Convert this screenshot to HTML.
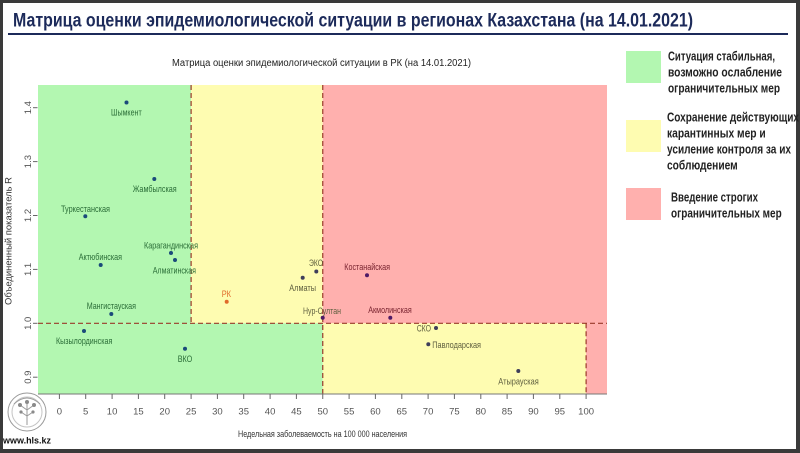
<!DOCTYPE html>
<html><head><meta charset="utf-8"><style>
html,body{margin:0;padding:0;background:#3a3a3a;}
svg{display:block;}
text{font-family:"Liberation Sans","DejaVu Sans",sans-serif;}
</style></head><body>
<svg width="800" height="453" viewBox="0 0 800 453" xmlns="http://www.w3.org/2000/svg">
<rect x="0" y="0" width="800" height="453" fill="#3a3a3a"/>
<rect x="3" y="3" width="793" height="446" fill="#ffffff"/>

<!-- Header -->
<text x="13" y="26.5" font-size="19.5" font-weight="bold" fill="#1c2a5a" textLength="680" lengthAdjust="spacingAndGlyphs">Матрица оценки эпидемиологической ситуации в регионах Казахстана (на 14.01.2021)</text>
<rect x="8" y="33" width="780" height="2" fill="#1c2a5a"/>

<!-- Chart subtitle -->
<text x="172" y="66" font-size="10" fill="#222" textLength="299" lengthAdjust="spacingAndGlyphs">Матрица оценки эпидемиологической ситуации в РК (на 14.01.2021)</text>

<!-- Regions -->
<rect x="38" y="85" width="153.1" height="238.3" fill="#b3f7b1"/>
<rect x="191.1" y="85" width="131.65" height="238.3" fill="#fefcb1"/>
<rect x="322.75" y="85" width="284.25" height="238.3" fill="#ffb0ae"/>
<rect x="38" y="323.3" width="284.75" height="70.5" fill="#b3f7b1"/>
<rect x="322.75" y="323.3" width="263.35" height="70.5" fill="#fefcb1"/>
<rect x="586.1" y="323.3" width="20.9" height="70.5" fill="#ffb0ae"/>

<!-- Dashed lines -->
<g stroke="#9a3a2a" stroke-width="1.2" stroke-dasharray="5,3" fill="none">
<line x1="191.1" y1="85" x2="191.1" y2="323.3"/>
<line x1="322.75" y1="85" x2="322.75" y2="393.8"/>
<line x1="586.1" y1="323.3" x2="586.1" y2="393.8"/>
<line x1="38" y1="323.3" x2="607" y2="323.3"/>
</g>

<!-- Axes -->
<line x1="38" y1="394" x2="607" y2="394" stroke="#777" stroke-width="1"/>
<g stroke="#666" stroke-width="1">
<line x1="59.4" y1="394" x2="59.4" y2="399"/><line x1="85.7" y1="394" x2="85.7" y2="399"/>
<line x1="112.1" y1="394" x2="112.1" y2="399"/><line x1="138.4" y1="394" x2="138.4" y2="399"/>
<line x1="164.7" y1="394" x2="164.7" y2="399"/><line x1="191.1" y1="394" x2="191.1" y2="399"/>
<line x1="217.4" y1="394" x2="217.4" y2="399"/><line x1="243.7" y1="394" x2="243.7" y2="399"/>
<line x1="270.1" y1="394" x2="270.1" y2="399"/><line x1="296.4" y1="394" x2="296.4" y2="399"/>
<line x1="322.75" y1="394" x2="322.75" y2="399"/><line x1="349.1" y1="394" x2="349.1" y2="399"/>
<line x1="375.4" y1="394" x2="375.4" y2="399"/><line x1="401.8" y1="394" x2="401.8" y2="399"/>
<line x1="428.1" y1="394" x2="428.1" y2="399"/><line x1="454.4" y1="394" x2="454.4" y2="399"/>
<line x1="480.8" y1="394" x2="480.8" y2="399"/><line x1="507.1" y1="394" x2="507.1" y2="399"/>
<line x1="533.4" y1="394" x2="533.4" y2="399"/><line x1="559.8" y1="394" x2="559.8" y2="399"/>
<line x1="586.1" y1="394" x2="586.1" y2="399"/>
<line x1="33" y1="107.7" x2="37.5" y2="107.7"/><line x1="33" y1="161.6" x2="37.5" y2="161.6"/>
<line x1="33" y1="215.5" x2="37.5" y2="215.5"/><line x1="33" y1="269.4" x2="37.5" y2="269.4"/>
<line x1="33" y1="323.3" x2="37.5" y2="323.3"/><line x1="33" y1="377.2" x2="37.5" y2="377.2"/>
</g>
<g font-size="9.5" fill="#555" text-anchor="middle">
<text x="59.4" y="414.5">0</text><text x="85.7" y="414.5">5</text><text x="112.1" y="414.5">10</text>
<text x="138.4" y="414.5">15</text><text x="164.7" y="414.5">20</text><text x="191.1" y="414.5">25</text>
<text x="217.4" y="414.5">30</text><text x="243.7" y="414.5">35</text><text x="270.1" y="414.5">40</text>
<text x="296.4" y="414.5">45</text><text x="322.75" y="414.5">50</text><text x="349.1" y="414.5">55</text>
<text x="375.4" y="414.5">60</text><text x="401.8" y="414.5">65</text><text x="428.1" y="414.5">70</text>
<text x="454.4" y="414.5">75</text><text x="480.8" y="414.5">80</text><text x="507.1" y="414.5">85</text>
<text x="533.4" y="414.5">90</text><text x="559.8" y="414.5">95</text><text x="586.1" y="414.5">100</text>
<text transform="translate(31,107.7) rotate(-90)">1.4</text>
<text transform="translate(31,161.6) rotate(-90)">1.3</text>
<text transform="translate(31,215.5) rotate(-90)">1.2</text>
<text transform="translate(31,269.4) rotate(-90)">1.1</text>
<text transform="translate(31,323.3) rotate(-90)">1.0</text>
<text transform="translate(31,377.2) rotate(-90)">0.9</text>
</g>

<!-- Axis titles -->
<text x="238" y="437" font-size="9.5" fill="#333" textLength="169" lengthAdjust="spacingAndGlyphs">Недельная заболеваемость на 100 000 населения</text>
<text transform="translate(11.5,305) rotate(-90)" font-size="9.5" fill="#333" textLength="128" lengthAdjust="spacingAndGlyphs">Объединенный показатель R</text>

<!-- Points -->
<g fill="#1a4a7a">
<circle cx="126.5" cy="102.5" r="2"/>
<circle cx="154.3" cy="179" r="2"/>
<circle cx="85.3" cy="216.3" r="2"/>
<circle cx="171" cy="253" r="2"/>
<circle cx="175" cy="260" r="2"/>
<circle cx="100.7" cy="265" r="2"/>
<circle cx="111.3" cy="314" r="2"/>
<circle cx="84" cy="331" r="2"/>
<circle cx="185" cy="348.7" r="2"/>
</g>
<g fill="#3e3e5a">
<circle cx="302.7" cy="277.7" r="2"/>
<circle cx="316.3" cy="271.5" r="2"/>
<circle cx="436" cy="328" r="2"/>
<circle cx="428.3" cy="344.3" r="2"/>
<circle cx="518.3" cy="371" r="2"/>
</g>
<g fill="#4e1a66">
<circle cx="322.7" cy="317.7" r="2"/>
<circle cx="367" cy="275.3" r="2"/>
<circle cx="390.3" cy="317.7" r="2"/>
</g>
<circle cx="226.7" cy="301.7" r="2" fill="#e06a2a"/>

<!-- Labels -->
<g font-size="9.5" fill="#2b6e38">
<text x="111" y="115.5" textLength="30.7" lengthAdjust="spacingAndGlyphs">Шымкент</text>
<text x="132.7" y="192.2" textLength="44" lengthAdjust="spacingAndGlyphs">Жамбылская</text>
<text x="61" y="211.8" textLength="49" lengthAdjust="spacingAndGlyphs">Туркестанская</text>
<text x="144" y="248.5" textLength="54" lengthAdjust="spacingAndGlyphs">Карагандинская</text>
<text x="78.7" y="260.2" textLength="43.3" lengthAdjust="spacingAndGlyphs">Актюбинская</text>
<text x="152.7" y="273.5" textLength="43.3" lengthAdjust="spacingAndGlyphs">Алматинская</text>
<text x="86.7" y="308.8" textLength="49.3" lengthAdjust="spacingAndGlyphs">Мангистауская</text>
<text x="56" y="344.2" textLength="56.3" lengthAdjust="spacingAndGlyphs">Кызылординская</text>
<text x="177.7" y="362.2" textLength="14.6" lengthAdjust="spacingAndGlyphs">ВКО</text>
</g>
<text x="221.7" y="296.8" font-size="9.5" fill="#e06a2a" textLength="9.3" lengthAdjust="spacingAndGlyphs">РК</text>
<g font-size="9.5" fill="#5e5e3e">
<text x="289.3" y="290.8" textLength="26.7" lengthAdjust="spacingAndGlyphs">Алматы</text>
<text x="309" y="266" textLength="14" lengthAdjust="spacingAndGlyphs">ЭКО</text>
<text x="303" y="314.2" textLength="38" lengthAdjust="spacingAndGlyphs">Нур-Султан</text>
<text x="416.7" y="331.5" textLength="14.3" lengthAdjust="spacingAndGlyphs">СКО</text>
<text x="432.3" y="347.8" textLength="48.7" lengthAdjust="spacingAndGlyphs">Павлодарская</text>
<text x="498.3" y="384.5" textLength="40.4" lengthAdjust="spacingAndGlyphs">Атырауская</text>
</g>
<g font-size="9.5" fill="#7a2430">
<text x="344.3" y="270.2" textLength="45.7" lengthAdjust="spacingAndGlyphs">Костанайская</text>
<text x="368.3" y="312.8" textLength="43.4" lengthAdjust="spacingAndGlyphs">Акмолинская</text>
</g>

<!-- Legend -->
<rect x="626" y="51" width="35" height="32" fill="#b3f7b1"/>
<rect x="626" y="120" width="35" height="32" fill="#fefcb1"/>
<rect x="626" y="188" width="35" height="32" fill="#ffb0ae"/>
<g font-size="12.5" font-weight="bold" fill="#222">
<text x="668" y="60.5" textLength="107" lengthAdjust="spacingAndGlyphs">Ситуация стабильная,</text>
<text x="668" y="76.5" textLength="114" lengthAdjust="spacingAndGlyphs">возможно ослабление</text>
<text x="668" y="92.5" textLength="112" lengthAdjust="spacingAndGlyphs">ограничительных мер</text>
<text x="667" y="121.5" textLength="132" lengthAdjust="spacingAndGlyphs">Сохранение действующих</text>
<text x="667" y="137.5" textLength="98.7" lengthAdjust="spacingAndGlyphs">карантинных мер и</text>
<text x="667" y="153.5" textLength="124" lengthAdjust="spacingAndGlyphs">усиление контроля за их</text>
<text x="667" y="169.5" textLength="70.7" lengthAdjust="spacingAndGlyphs">соблюдением</text>
<text x="671" y="201.5" textLength="87" lengthAdjust="spacingAndGlyphs">Введение строгих</text>
<text x="671" y="217.5" textLength="110.7" lengthAdjust="spacingAndGlyphs">ограничительных мер</text>
</g>

<!-- Logo -->
<g fill="none" stroke="#9a9a9a" stroke-width="1">
<circle cx="27" cy="412" r="19"/>
<circle cx="27" cy="412" r="15" stroke="#c4c4c4"/>
<path d="M14 404 Q27 392 40 404" />
<path d="M27 402 L27 425 M27 410 L20 405 M27 410 L34 405 M27 416 L21 412 M27 416 L33 412"/>
</g>
<g fill="#8a8a8a">
<circle cx="20" cy="405" r="2"/><circle cx="34" cy="405" r="2"/>
<circle cx="21" cy="412" r="1.6"/><circle cx="33" cy="412" r="1.6"/>
<circle cx="27" cy="402" r="2"/>
</g>
<text x="3" y="443.5" font-size="9.5" font-weight="bold" fill="#111" textLength="48" lengthAdjust="spacingAndGlyphs">www.hls.kz</text>
</svg>
</body></html>
